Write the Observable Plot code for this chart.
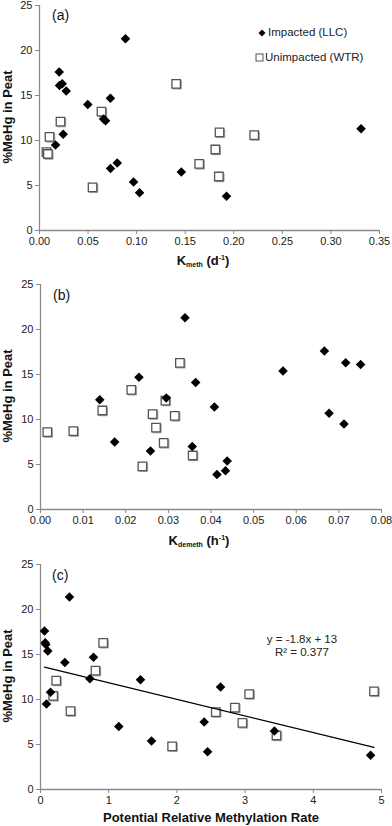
<!DOCTYPE html>
<html>
<head>
<meta charset="utf-8">
<script src="https://cdn.jsdelivr.net/npm/d3@7"></script>
<script src="https://cdn.jsdelivr.net/npm/@observablehq/plot@0.6"></script>
<style>
  html, body { margin: 0; padding: 0; background: #fff; }
  body { font-family: "Liberation Sans", Arial, Helvetica, sans-serif; }
  #wrap { position: relative; width: 392px; height: 826px; overflow: hidden; }
  #wrap > svg { display: block; }
  .ov { position: absolute; color: #111; white-space: nowrap; }
  .ctr { width: 240px; text-align: center; }
  .ylab { width: 200px; text-align: center; font-weight: bold; font-size: 13px; line-height: 14px; transform: rotate(-90deg); }
  .xlab { font-weight: bold; font-size: 13px; line-height: 14px; }
  .xlab sub { font-size: 7px; vertical-align: -2px; }
  .xlab sup { font-size: 7px; vertical-align: 5px; }
  .panel { font-size: 14px; line-height: 16px; }
  .leg { font-size: 11.5px; line-height: 14px; color: #222; }
  .leg svg { display: inline-block; }
  .eq { font-size: 11.5px; line-height: 13px; color: #222; }
</style>
</head>
<body>
<div id="wrap"></div>
<script>
// ---- data ----
const yTicks = [0, 5, 10, 15, 20, 25];
const xTicksA = [0, 0.05, 0.10, 0.15, 0.20, 0.25, 0.30, 0.35];
const xTicksB = [0, 0.01, 0.02, 0.03, 0.04, 0.05, 0.06, 0.07, 0.08];
const xTicksC = [0, 1, 2, 3, 4, 5];
const seriesNames = ["Impacted (LLC)", "Unimpacted (WTR)"];

// (a) Kmeth (d-1)
const kmethImp = [0.0885, 0.0203, 0.0206, 0.0234, 0.0275, 0.0497, 0.073, 0.066, 0.068, 0.0244, 0.0165, 0.0731, 0.080, 0.0968, 0.103, 0.146, 0.1925, 0.331];
const mehgImpA = [21.3, 17.6, 16.1, 16.3, 15.5, 14.0, 14.7, 12.4, 12.2, 10.7, 9.5, 6.9, 7.5, 5.4, 4.2, 6.5, 3.8, 11.3];
const kmethUnimp = [0.1407, 0.0638, 0.0216, 0.0103, 0.0072, 0.0086, 0.0546, 0.1644, 0.1853, 0.221, 0.181, 0.1846];
const mehgUnimpA = [16.3, 13.2, 12.1, 10.4, 8.7, 8.5, 4.8, 7.4, 10.9, 10.6, 9.0, 6.0];

// (b) Kdemeth (h-1)
const kdemethImp = [0.0339, 0.0666, 0.0716, 0.0751, 0.0569, 0.0231, 0.0364, 0.0139, 0.0295, 0.0408, 0.0677, 0.0712, 0.0174, 0.0258, 0.0356, 0.0414, 0.0434, 0.0438];
const mehgImpB = [21.3, 17.6, 16.3, 16.1, 15.4, 14.7, 14.1, 12.2, 12.4, 11.4, 10.7, 9.5, 7.5, 6.5, 7.0, 3.9, 4.3, 5.4];
const kdemethUnimp = [0.0327, 0.0213, 0.0293, 0.0145, 0.0263, 0.0315, 0.0271, 0.0016, 0.0077, 0.0289, 0.0357, 0.0239];
const mehgUnimpB = [16.3, 13.3, 12.1, 11.0, 10.6, 10.4, 9.1, 8.6, 8.7, 7.4, 6.0, 4.8];

// (c) Potential relative methylation rate
const prmrImp = [0.425, 0.059, 0.069, 0.078, 0.107, 0.357, 0.777, 0.724, 1.466, 0.147, 0.088, 1.148, 1.628, 2.40, 2.45, 2.64, 3.43, 4.84];
const mehgImpC = [21.4, 17.6, 16.3, 16.1, 15.4, 14.1, 14.7, 12.3, 12.2, 10.8, 9.5, 7.0, 5.4, 7.5, 4.2, 11.4, 6.5, 3.8];
const prmrUnimp = [0.919, 0.806, 0.230, 0.186, 0.44, 1.93, 3.06, 4.89, 2.57, 2.85, 2.96, 3.46];
const mehgUnimpC = [16.3, 13.2, 12.1, 10.4, 8.7, 4.8, 10.6, 10.9, 8.6, 9.1, 7.4, 6.0];

const eqLines = ["y = -1.8x + 13", "R\u00B2 = 0.377"];

// ---- build ----
const zip = (xs, ys) => xs.map((x, i) => ({x, y: ys[i]}));
const AXIS = "#8a8a8a";
const TXT = "#222";

function panel({xDomain, xTicks, xFmt, imp, unimp, height, mt, mb, ml, mr, trend}) {
  const marks = [
    Plot.axisY({ticks: yTicks, tickSize: 4, tickPadding: 3, fontSize: 11, stroke: AXIS, fill: TXT, label: null}),
    Plot.axisX({ticks: xTicks, tickSize: 4, tickPadding: 3, fontSize: 11, stroke: AXIS, fill: TXT, tickFormat: xFmt, label: null}),
    Plot.ruleX([0], {stroke: AXIS, strokeWidth: 1.3}),
    Plot.ruleY([0], {stroke: AXIS, strokeWidth: 1.3}),
    Plot.dot(unimp, {x: "x", y: "y", symbol: "square2", r: 5.4, fill: "#aaa", stroke: "#aaa", strokeWidth: 1, dx: 1, dy: 1}),
    Plot.dot(unimp, {x: "x", y: "y", symbol: "square2", r: 5.4, fill: "white", stroke: "#555", strokeWidth: 1.3}),
    Plot.dot(imp, {x: "x", y: "y", symbol: "diamond2", r: 4.3, fill: "black", stroke: "none"})
  ];
  if (trend) {
    marks.push(Plot.linearRegressionY(imp.concat(unimp), {x: "x", y: "y", ci: 0, stroke: "black", strokeWidth: 1.3}));
  }
  return Plot.plot({
    width: 392, height,
    marginTop: mt, marginBottom: mb, marginLeft: ml, marginRight: mr,
    x: {domain: xDomain},
    y: {domain: [0, 25]},
    style: {fontFamily: '"Liberation Sans", Arial, sans-serif', background: "white", overflow: "visible"},
    marks
  });
}

const wrap = document.getElementById("wrap");
const f2 = d3.format(".2f");
wrap.append(panel({xDomain: [0, 0.35], xTicks: xTicksA, xFmt: f2, imp: zip(kmethImp, mehgImpA), unimp: zip(kmethUnimp, mehgUnimpA), height: 280, mt: 5, mb: 50, ml: 39, mr: 13}));
wrap.append(panel({xDomain: [0, 0.08], xTicks: xTicksB, xFmt: f2, imp: zip(kdemethImp, mehgImpB), unimp: zip(kdemethUnimp, mehgUnimpB), height: 280, mt: 4, mb: 51, ml: 40, mr: 11}));
wrap.append(panel({xDomain: [0, 5], xTicks: xTicksC, xFmt: d3.format("d"), imp: zip(prmrImp, mehgImpC), unimp: zip(prmrUnimp, mehgUnimpC), height: 266, mt: 4, mb: 37, ml: 40, mr: 11, trend: true}));

function ov(cls, html, left, top) {
  const d = document.createElement("div");
  d.className = "ov " + cls;
  d.innerHTML = html;
  d.style.left = left + "px";
  d.style.top = top + "px";
  wrap.appendChild(d);
  return d;
}
// y labels
[117, 396, 676].forEach(cy => ov("ylab", "%MeHg in Peat", 7.5 - 100, cy - 7));
// panel letters
ov("panel", "(a)", 52, 7);
ov("panel", "(b)", 53, 287);
ov("panel", "(c)", 52, 567);
// x labels
ov("xlab ctr", "K<sub>meth</sub> (d<sup>-1</sup>)", 203 - 120, 251);
ov("xlab ctr", "K<sub>demeth</sub> (h<sup>-1</sup>)", 199 - 120, 531);
ov("xlab ctr", "Potential Relative Methylation Rate", 211 - 120, 811);
// legend
const legSym = [
  '<svg width="8" height="8" style="vertical-align:-0.5px;margin-right:2px"><path d="M4 0.5L7.5 4L4 7.5L0.5 4Z" fill="black"/></svg>',
  '<svg width="9" height="9" style="vertical-align:-1px;margin-right:1px"><rect x="1" y="1" width="7" height="7" fill="white" stroke="#555" stroke-width="1"/></svg>'
];
ov("leg", legSym[0] + seriesNames[0], 258, 25);
ov("leg", legSym[1] + seriesNames[1], 255, 50);
// equation
ov("eq ctr", eqLines.join("<br>"), 302 - 120, 633);
</script>
</body>
</html>
